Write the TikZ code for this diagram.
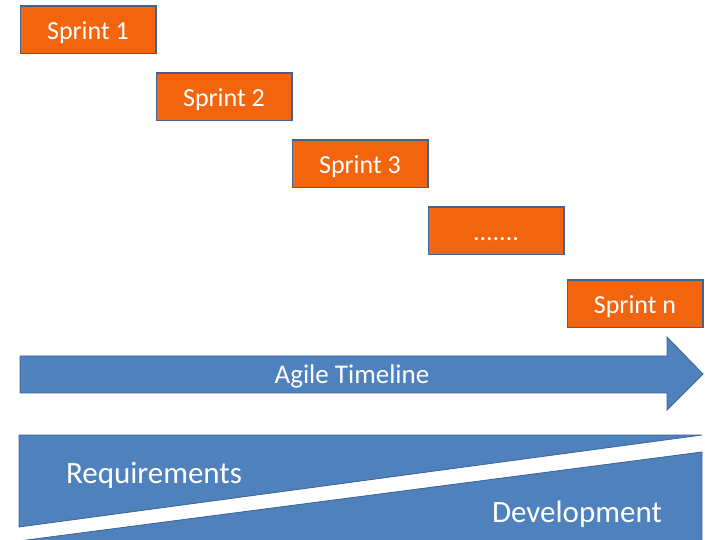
\documentclass[tikz,border=0pt]{standalone}
\usepackage{fontspec}
\setmainfont{Carlito}
\usetikzlibrary{positioning}
\definecolor{sprint-orange}{RGB}{242,101,14}
\definecolor{shape-blue}{RGB}{79,129,189}
\definecolor{edge-blue}{RGB}{62,100,150}

\begin{document}
\begin{tikzpicture}[x=1pt, y=-1pt, node distance=18pt and -1pt,
sprint/.style={rectangle, draw=edge-blue, line width=1.5pt, fill=sprint-orange, text=white, minimum width=135.5pt, minimum height=47.5pt, inner sep=0pt, text height=25pt, text depth=5pt, font=\fontsize{26}{30}\selectfont},
band/.style={fill=shape-blue, draw=edge-blue, line width=0.8pt},
bandtext/.style={text=white, inner sep=0pt, anchor=base, font=\fontsize{#1}{#1}\selectfont}]
\useasboundingbox (0,0) rectangle (705,540);
\clip (0,0) rectangle (705,540);

% sprints
\node [sprint, anchor=north west] (s1) at (19.5,5.5) {Sprint 1};
\node [sprint, below right = of s1] (s2) {Sprint 2};
\node [sprint, below right = of s2] (s3) {Sprint 3};
\node [sprint, below right = of s3] (dots) {.......};
\node [sprint, below right = 24pt and 2pt of dots] (sn) {Sprint n};

% timeline arrow
\draw[band] (20,356) -- (667,356) -- (667,337) -- (703,374) -- (667,410) -- (667,393) -- (20,393) -- cycle;
\node [bandtext=27] (timeline) at (352,384) {Agile Timeline};

% requirements and development
\draw[band] (19,435) -- (702,435) -- (19,527) -- cycle;
\draw[band] (19,541) -- (702,452) -- (702,541) -- cycle;
\node [bandtext=31] (req) at (154,483) {Requirements};
\node [bandtext=31] (dev) at (577,522) {Development};

\end{tikzpicture}
\end{document}
